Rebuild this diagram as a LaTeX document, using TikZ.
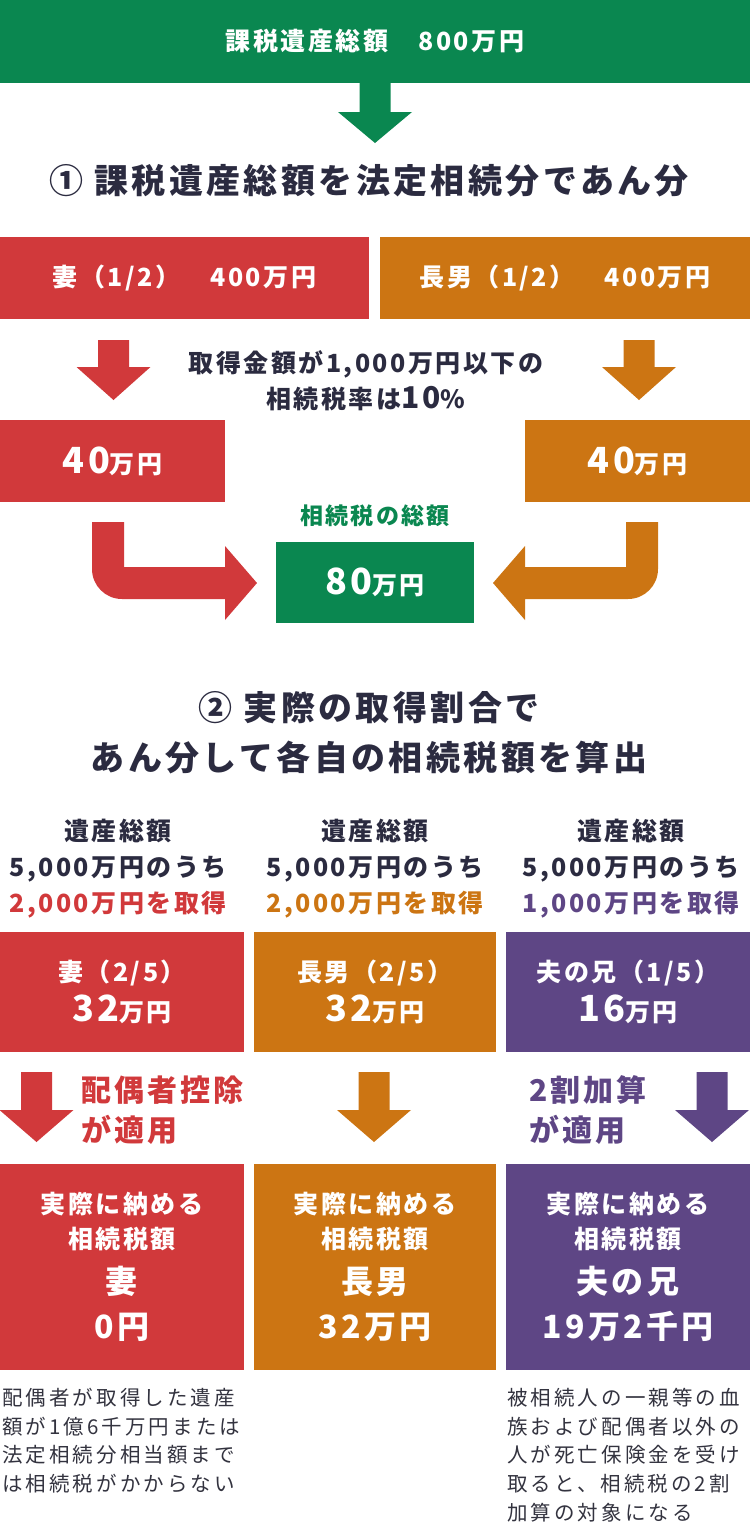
\documentclass[tikz,border=0pt]{standalone}
\usepackage{fontspec}
\newfontfamily\jp[LetterSpace=10]{Noto Sans CJK JP}
\newfontfamily\jpn[LetterSpace=15]{Noto Sans CJK JP}
\definecolor{gr}{HTML}{0A8750}
\definecolor{rd}{HTML}{D1393B}
\definecolor{og}{HTML}{CC7513}
\definecolor{pu}{HTML}{5E4685}
\definecolor{dk}{HTML}{2B2B40}
\definecolor{nt}{HTML}{33333F}
\newcommand\blkdown[5]{\fill[#5] ({#1-15.5},#2) -- ({#1+15.5},#2) -- ({#1+15.5},#3) -- ({#1+37},#3) -- (#1,#4) -- ({#1-37},#3) -- ({#1-15.5},#3) -- cycle;}
\tikzset{
  box/.style={anchor=north west, inner sep=0pt, outer sep=0pt, draw=none, text=white, align=center},
  lbl/.style={inner sep=0pt, outer sep=0pt, align=center},
  fa/.style={font=\jp\bfseries\fontsize{25pt}{36pt}\selectfont},
  fb/.style={font=\jp\bfseries\fontsize{34pt}{50pt}\selectfont},
  fc/.style={font=\jp\bfseries\fontsize{30pt}{40pt}\selectfont},
  fn/.style={font=\jpn\fontsize{20.5pt}{28.7pt}\selectfont, text=nt, align=left, inner sep=0pt, anchor=north west},
}
\newcommand\bignum[1]{{\fontsize{36pt}{36pt}\selectfont #1}}
\begin{document}
\begin{tikzpicture}[x=1pt,y=-1pt]
\useasboundingbox (0,0) rectangle (750,1532);
% top
\node[box, fill=gr, fa, minimum width=750pt, minimum height=83pt] (total) at (0,0) {課税遺産総額　800万円};
\blkdown{375}{83}{112}{143}{gr}
\node[lbl, fb, text=dk] (title1) at (369,181) {① 課税遺産総額を法定相続分であん分};
% legal shares
\node[box, fill=rd, fa, minimum width=369pt, minimum height=82pt] (wifeA) at (0,237) {妻（1/2）　400万円};
\node[box, fill=og, fa, minimum width=370pt, minimum height=82pt] (sonA) at (380,237) {長男（1/2）　400万円};
\blkdown{113.5}{340}{367}{400}{rd}
\blkdown{639}{340}{367}{400}{og}
\node[lbl, fa, text=dk] (rate) at (366,381) {取得金額が1,000万円以下の\\相続税率は{\fontsize{30pt}{36pt}\selectfont 10}\%};
\node[box, fill=rd, fa, minimum width=225pt, minimum height=82pt] (wifeB) at (0,420) {\bignum{40}万円};
\node[box, fill=og, fa, minimum width=225pt, minimum height=82pt] (sonB) at (525,420) {\bignum{40}万円};
\node[lbl, fa, text=gr, font=\jp\bfseries\fontsize{23pt}{30pt}\selectfont] (sumlbl) at (375,516) {相続税の総額};
\node[box, fill=gr, fa, minimum width=198pt, minimum height=81pt] (sum) at (276,542) {\bignum{80}万円};
% bent arrows
\fill[rd] (92,522) -- (124,522) -- (124,567) -- (225,567) -- (225,546) -- (257,583) -- (225,620) -- (225,599) -- (122,599) .. controls (105.4,599) and (92,585.6) .. (92,569) -- cycle;
\fill[og] (658,522) -- (626,522) -- (626,567) -- (525,567) -- (525,546) -- (493,583) -- (525,620) -- (525,599) -- (628,599) .. controls (644.6,599) and (658,585.6) .. (658,569) -- cycle;
% section 2
\node[lbl, fb, text=dk] (title2) at (369,733) {② 実際の取得割合で\\あん分して各自の相続税額を算出};
\node[lbl, fa, text=dk] (hA) at (118,869) {遺産総額\\5,000万円のうち\\\textcolor{rd}{2,000万円を取得}};
\node[lbl, fa, text=dk] (hB) at (375,869) {遺産総額\\5,000万円のうち\\\textcolor{og}{2,000万円を取得}};
\node[lbl, fa, text=dk] (hC) at (631,869) {遺産総額\\5,000万円のうち\\\textcolor{pu}{1,000万円を取得}};
\node[box, fill=rd, minimum width=244pt, minimum height=120pt, font=\jp\bfseries\fontsize{25pt}{40pt}\selectfont] (wifeC) at (0,932) {妻（2/5）\\\bignum{32}万円};
\node[box, fill=og, minimum width=242pt, minimum height=120pt, font=\jp\bfseries\fontsize{25pt}{40pt}\selectfont] (sonC) at (254,932) {長男（2/5）\\\bignum{32}万円};
\node[box, fill=pu, minimum width=244pt, minimum height=120pt, font=\jp\bfseries\fontsize{25pt}{40pt}\selectfont] (broC) at (506,932) {夫の兄（1/5）\\\bignum{16}万円};
\blkdown{36.5}{1072}{1110}{1142}{rd}
\blkdown{374}{1072}{1110}{1142}{og}
\blkdown{712}{1072}{1110}{1142}{pu}
\node[lbl, fc, text=rd, align=left, anchor=west] (spouse) at (81,1110) {配偶者控除\\が適用};
\node[lbl, fc, text=pu, align=left, anchor=west] (twenty) at (529,1110) {2割加算\\が適用};
\node[box, fill=rd, minimum width=244pt, minimum height=206pt, font=\jp\bfseries\fontsize{25pt}{35pt}\selectfont] (wifeD) at (0,1164) {実際に納める\\相続税額\\[10pt]{\fontsize{32pt}{32pt}\selectfont 妻}\\[10pt]{\fontsize{32pt}{32pt}\selectfont 0円}};
\node[box, fill=og, minimum width=242pt, minimum height=206pt, font=\jp\bfseries\fontsize{25pt}{35pt}\selectfont] (sonD) at (254,1164) {実際に納める\\相続税額\\[10pt]{\fontsize{32pt}{32pt}\selectfont 長男}\\[10pt]{\fontsize{32pt}{32pt}\selectfont 32万円}};
\node[box, fill=pu, minimum width=244pt, minimum height=206pt, font=\jp\bfseries\fontsize{25pt}{35pt}\selectfont] (broD) at (506,1164) {実際に納める\\相続税額\\[10pt]{\fontsize{32pt}{32pt}\selectfont 夫の兄}\\[10pt]{\fontsize{32pt}{32pt}\selectfont 19万2千円}};
% notes
\node[fn] (noteA) at (2,1388) {配偶者が取得した遺産\\額が1億6千万円または\\法定相続分相当額まで\\は相続税がかからない};
\node[fn] (noteC) at (507,1388) {被相続人の一親等の血\\族および配偶者以外の\\人が死亡保険金を受け\\取ると、相続税の2割\\加算の対象になる};
\end{tikzpicture}
\end{document}
